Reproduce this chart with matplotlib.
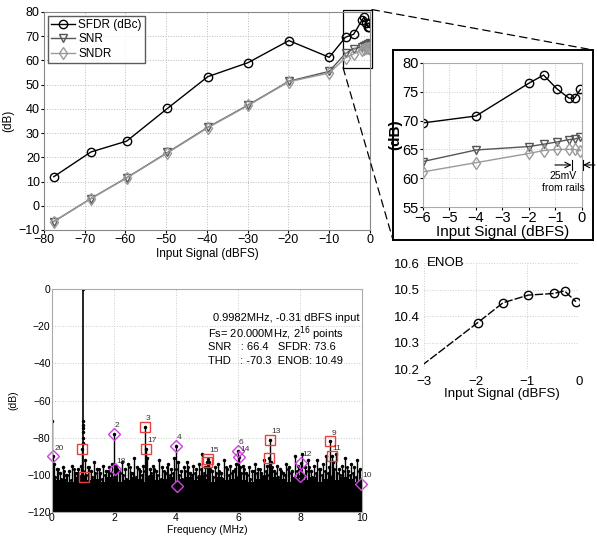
import matplotlib
matplotlib.use("Agg")
import matplotlib.pyplot as plt
from matplotlib.patches import Rectangle, ConnectionPatch
import numpy as np

plt.rcParams['font.family'] = ['Liberation Sans', 'DejaVu Sans']

# input sweep (dBFS) and measured dynamic performance
input_dbfs = [-77.6, -68.5, -59.7, -49.7, -39.8, -29.9, -19.9, -10.0,
              -6.0, -4.0, -2.0, -1.45, -0.94, -0.49, -0.28, -0.06]
sfdr = [12.0, 22.2, 26.7, 40.2, 53.3, 59.1, 68.2, 61.3,
        69.6, 70.8, 76.5, 77.9, 75.5, 73.9, 73.9, 75.4]
snr = [-6.5, 3.0, 11.6, 22.0, 32.4, 41.6, 51.4, 55.5,
       62.9, 64.9, 65.5, 65.9, 66.3, 66.7, 66.8, 67.1]
sndr = [-6.6, 2.9, 11.5, 21.8, 32.2, 41.4, 51.2, 54.8,
        61.1, 62.7, 64.3, 64.8, 65.0, 65.0, 65.0, 64.8]

# ENOB vs input (first point lies outside the view)
enob_in = [-4.0, -1.96, -1.47, -0.98, -0.49, -0.28, -0.06]
enob = [10.07, 10.375, 10.45, 10.479, 10.485, 10.495, 10.454]

# spectrum: fundamental, leakage bins, DC
fund_f = 0.998
fund_leak_db = [0, -71, -73, -75, -77, -80, -83]
dc_db = -71

# harmonics (aliased positions in MHz)
harm_id = [20, 2, 18, 3, 17, 4, 16, 5, 15, 6, 14, 7, 13, 8, 12, 9, 11, 10, 19, 21]
harm_f = [0.04, 2.00, 2.04, 2.99, 3.03, 3.99, 4.03, 4.99, 5.03, 5.99, 6.03,
          6.99, 7.03, 7.99, 8.03, 8.98, 9.02, 9.98, 1.04, 0.96]
harm_db = [-90, -78, -97, -74, -86, -84.5, -106, -93, -91.5, -87, -90.5,
           -91, -81, -100.5, -93.5, -82, -90, -105, -101, -86]
harm_label = ['20', '2', '18', '3', '17', '4', '', '', '15', '6', '14',
              '', '13', '', '12', '9', '11', '10', '', '']

# noise spurs every 0.1 MHz (two interleaved sets) and noise floor every 0.2 MHz
spur_db = [-94, -97, -99, -96, -100, -98, -95, -99, -97, -95,
           -92, -96, -98, -93, -97, -99, -95, -98, -96, -94,
           -95, -98, -93, -97, -94, -99, -91, -96, -98, -95,
           -91, -97, -95, -98, -92, -96, -99, -94, -97, -91,
           -93, -98, -96, -93, -99, -95, -97, -94, -89, -96,
           -93, -98, -96, -94, -99, -92, -97, -95, -98, -94,
           -96, -95, -99, -96, -98, -94, -97, -99, -92, -95,
           -93, -98, -95, -97, -99, -94, -96, -98, -90, -95,
           -89, -96, -92, -98, -95, -92, -97, -94, -90, -96,
           -93, -89, -97, -95, -91, -98, -94, -96, -92, -97]
spur2_db = [-99, -101, -97, -102, -98, -100, -103, -97, -99, -101,
            -98, -100, -96, -101, -99, -97, -102, -100, -98, -99,
            -101, -97, -99, -100, -102, -96, -99, -101, -97, -100,
            -98, -101, -99, -97, -100, -102, -98, -96, -100, -99,
            -97, -100, -102, -98, -96, -100, -99, -101, -97, -99,
            -100, -97, -101, -99, -98, -102, -96, -100, -99, -97,
            -101, -99, -97, -100, -102, -98, -99, -97, -101, -98,
            -100, -96, -99, -101, -98, -100, -97, -99, -102, -98,
            -97, -100, -98, -96, -101, -99, -97, -100, -98, -99,
            -101, -97, -99, -100, -98, -96, -100, -99, -101, -98]
floor_db = [-101, -103, -102, -104, -101, -100, -103, -102, -104, -101,
            -102, -104, -103, -101, -102, -104, -100, -103, -102, -101,
            -104, -102, -101, -103, -100, -102, -104, -101, -103, -102,
            -101, -103, -104, -102, -100, -103, -101, -102, -104, -101,
            -102, -103, -101, -104, -102, -100, -103, -101, -102, -104, -102]

fig = plt.figure(figsize=(5.97, 5.38), dpi=100)

# ---- top-left: SFDR / SNR / SNDR ----
ax1 = fig.add_axes([0.0737, 0.5725, 0.546, 0.4052])
ax1.plot(input_dbfs, sfdr, color='black', lw=1.0, marker='o', ms=6, mfc='none',
         mec='black', label='SFDR (dBc)')
ax1.plot(input_dbfs, snr, color='#555555', lw=1.0, marker='v', ms=6, mfc='none',
         mec='#555555', label='SNR')
ax1.plot(input_dbfs, sndr, color='#9a9a9a', lw=1.0, marker='d', ms=6, mfc='none',
         mec='#9a9a9a', label='SNDR')
ax1.set_xlim(-80, 0)
ax1.set_ylim(-10, 80)
ax1.set_xticks(range(-80, 1, 10))
ax1.set_yticks(range(-10, 81, 10))
ax1.tick_params(labelsize=9, length=2, pad=1)
ax1.grid(True, ls=':', color='#bbbbbb', lw=0.7)
ax1.set_xlabel('Input Signal (dBFS)', fontsize=8.5, labelpad=1)
ax1.set_ylabel('(dB)', fontsize=8.5, labelpad=3)
for s in ax1.spines.values():
    s.set_color('#888888')
ax1.legend(loc='upper left', fontsize=8.5, frameon=True, fancybox=False,
           edgecolor='#333333', handlelength=2.0, handletextpad=0.3, borderpad=0.3,
           labelspacing=0.2, borderaxespad=0.3)
zoom_box = Rectangle((-6.6, 57), 7.1, 24, fill=False, ec='black', lw=0.9, clip_on=False)
ax1.add_patch(zoom_box)

# ---- zoomed inset with frame ----
frame = fig.add_axes([0.6583, 0.5539, 0.335, 0.3532])
frame.set_xticks([])
frame.set_yticks([])
frame.patch.set_alpha(0)
for s in frame.spines.values():
    s.set_linewidth(1.4)
for xa, ya, xb, yb in [(0.5, 81, 1, 1), (-6.6, 57, 0, 0)]:
    con = ConnectionPatch(xyA=(xa, ya), coordsA=ax1.transData,
                          xyB=(xb, yb), coordsB=frame.transAxes,
                          ls=(0, (6, 4)), lw=0.9, color='black')
    fig.add_artist(con)

ax2 = fig.add_axes([0.7085, 0.6152, 0.2663, 0.2677])
ax2.plot(input_dbfs, sfdr, color='black', lw=1.0, marker='o', ms=6, mfc='none', mec='black')
ax2.plot(input_dbfs, snr, color='#555555', lw=1.0, marker='v', ms=6, mfc='none', mec='#555555')
ax2.plot(input_dbfs, sndr, color='#9a9a9a', lw=1.0, marker='d', ms=6, mfc='none', mec='#9a9a9a')
ax2.set_xlim(-6, 0)
ax2.set_ylim(55, 80)
ax2.set_xticks(range(-6, 1))
ax2.set_yticks(range(55, 81, 5))
ax2.grid(True, ls=':', color='#cccccc', lw=0.7)
ax2.tick_params(labelsize=10.5, length=2, pad=1)
ax2.set_xlabel('Input Signal (dBFS)', fontsize=11, labelpad=0)
ax2.set_ylabel('(dB)', fontsize=11, fontweight='bold', labelpad=0)
for s in ax2.spines.values():
    s.set_color('#aaaaaa')
ax2.annotate('', xy=(-0.39, 62.3), xytext=(-1.02, 62.3),
             arrowprops=dict(arrowstyle='->', lw=0.8, color='black', shrinkA=0, shrinkB=0))
ax2.annotate('', xy=(0.04, 62.3), xytext=(0.49, 62.3), annotation_clip=False,
             arrowprops=dict(arrowstyle='->', lw=0.8, color='black', shrinkA=0, shrinkB=0))
ax2.plot([-0.39, -0.39], [61.4, 63.2], color='black', lw=0.8)
ax2.plot([0.04, 0.04], [61.4, 63.2], color='black', lw=0.8, clip_on=False)
ax2.text(-0.72, 60.4, '25mV', fontsize=7.5, ha='center', va='center')
ax2.text(-0.72, 58.3, 'from rails', fontsize=7.5, ha='center', va='center')

# ---- ENOB ----
ax3 = fig.add_axes([0.7102, 0.3141, 0.2596, 0.197])
ax3.plot(enob_in, enob, color='black', lw=1.0, ls=(0, (6, 1.5)))
ax3.plot(enob_in[1:], enob[1:], ls='none', marker='o', ms=6, mfc='none', mec='black')
ax3.set_xlim(-3, 0)
ax3.set_ylim(10.2, 10.6)
ax3.set_xticks([-3, -2, -1, 0])
ax3.set_yticks([10.2, 10.3, 10.4, 10.5, 10.6])
ax3.set_yticklabels(['10.2', '10.3', '10.4', '10.5', '10.6'])
ax3.tick_params(axis='y', labelsize=9.5, length=0, pad=3)
ax3.tick_params(axis='x', labelsize=9.5, length=0, pad=5)
ax3.grid(True, ls=':', color='#cccccc', lw=0.7)
for s in ax3.spines.values():
    s.set_visible(False)
ax3.set_xlabel('Input Signal (dBFS)', fontsize=9.5, labelpad=0)
ax3.text(-2.95, 10.6, 'ENOB', fontsize=9.5, ha='left', va='center')

# ---- spectrum ----
ax4 = fig.add_axes([0.0871, 0.0483, 0.5193, 0.4145])
ax4.set_xlim(0, 10)
ax4.set_ylim(-120, 0)
ax4.grid(True, ls=':', color='#cccccc', lw=0.7)
for s in ax4.spines.values():
    s.set_color('#aaaaaa')

floor_f = np.linspace(0, 10, len(floor_db))
ax4.fill_between(floor_f, -120, floor_db, step='mid', color='black', lw=0)
spur_f = np.linspace(0.05, 9.95, len(spur_db))
ax4.vlines(spur_f, -120, spur_db, color='black', lw=1.0)
ax4.plot(spur_f, spur_db, ls='none', marker='.', ms=3, color='black')
spur2_f = np.linspace(0.0, 9.9, len(spur2_db))
ax4.vlines(spur2_f, -120, spur2_db, color='black', lw=1.0)
ax4.plot(spur2_f, spur2_db, ls='none', marker='.', ms=2.5, color='black')

ax4.vlines([0.0], -120, dc_db, color='black', lw=1.0)
ax4.plot([0.0], [dc_db], ls='none', marker='.', ms=3, color='black')
ax4.vlines([fund_f], -120, fund_leak_db[0], color='black', lw=1.2)
ax4.plot([fund_f] * len(fund_leak_db), fund_leak_db, ls='none', marker='.', ms=3, color='black')

ax4.vlines(harm_f, -120, harm_db, color='black', lw=1.0)
ax4.plot(harm_f, harm_db, ls='none', marker='.', ms=3, color='black')
for hid, f, db, lab in zip(harm_id, harm_f, harm_db, harm_label):
    if hid % 2 == 0:
        ax4.plot(f, db, marker='D', ms=6, mfc='none', mec='#d040e0', mew=1.0, clip_on=False)
    else:
        ax4.plot(f, db, marker='s', ms=6.5, mfc='none', mec='#e8403a', mew=1.0, clip_on=False)
    if lab:
        ax4.text(f + 0.03, db + 2.5, lab, fontsize=6, color='#333333',
                 ha='left', va='bottom', clip_on=False)

ax4.set_xticks(range(0, 11, 2))
ax4.set_yticks(range(-120, 1, 20))
ax4.tick_params(labelsize=7.5, length=0, pad=1)
ax4.set_xlabel('Frequency (MHz)', fontsize=7.5, labelpad=1)
ax4.set_ylabel('(dB)', fontsize=7.5, labelpad=6)

info = ['0.9982MHz, -0.31 dBFS input',
        'Fs= 20.000MHz, 2$^{16}$ points',
        'SNR   : 66.4   SFDR: 73.6',
        'THD   : -70.3  ENOB: 10.49']
info_y = [0.870, 0.798, 0.740, 0.677]
for i, line in enumerate(info):
    ax4.text(0.519 if i == 0 else 0.503, info_y[i], line, transform=ax4.transAxes,
             fontsize=8, ha='left', va='center')

fig.savefig('out.png', dpi=100)
